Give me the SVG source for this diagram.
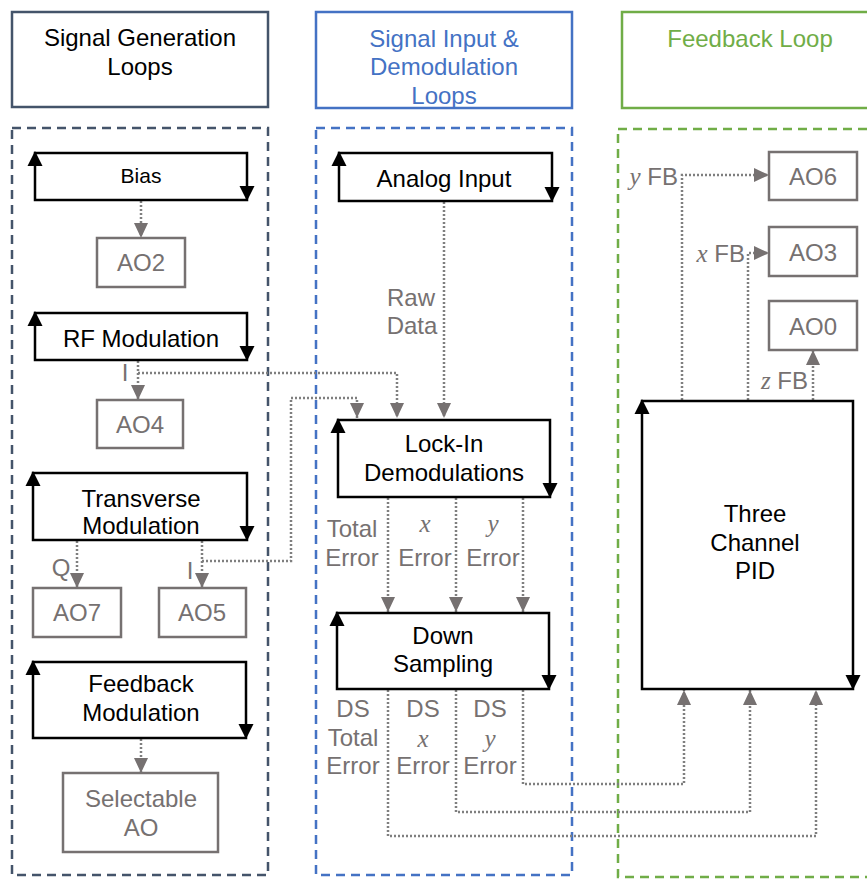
<svg xmlns="http://www.w3.org/2000/svg" xmlns:xlink="http://www.w3.org/1999/xlink" width="867" height="879" viewBox="0 0 867 879">
<style>
text{font-family:"Liberation Sans",Arial,sans-serif;font-size:24px;text-anchor:middle}
.blk{fill:#000}
.gry{fill:#767171}
.m{font-family:"Liberation Serif","DejaVu Serif",serif;font-style:italic;font-size:25px}
.hdr{fill:#fff;stroke-width:2.5}
.cont{fill:none;stroke-width:2.5;stroke-dasharray:9 6}
.loop{fill:#fff;stroke:#000;stroke-width:2.5}
.ao{fill:#fff;stroke:#767171;stroke-width:2.5}
.con{fill:none;stroke:#7F7F7F;stroke-width:2.5;stroke-dasharray:2 2;marker-end:url(#ah)}
</style>
<defs>
<marker id="ah" markerUnits="userSpaceOnUse" markerWidth="16" markerHeight="16" viewBox="0 0 16 16" refX="15" refY="8" orient="auto">
<path d="M0,1 L15,8 L0,15 Z" fill="#767171"/>
</marker>
<path id="up" d="M0,0 L-7.5,15 L7.5,15 Z" fill="#000"/>
<path id="dn" d="M0,0 L-7.5,-15 L7.5,-15 Z" fill="#000"/>
</defs>
<rect width="867" height="879" fill="#fff"/>

<g id="headers">
<rect class="hdr" x="12" y="12" width="256" height="95" stroke="#44546A"/>
<text class="blk" x="140" y="46">Signal Generation</text>
<text class="blk" x="140" y="75">Loops</text>
<rect class="hdr" x="316" y="12" width="256" height="96" stroke="#4472C4"/>
<text x="444" y="47" fill="#4472C4">Signal Input &amp;</text>
<text x="444" y="75" fill="#4472C4">Demodulation</text>
<text x="444" y="104" fill="#4472C4">Loops</text>
<rect class="hdr" x="622" y="12" width="260" height="96" stroke="#70AD47"/>
<text x="750" y="47" fill="#70AD47">Feedback Loop</text>
</g>

<g id="containers">
<rect class="cont" x="12" y="128" width="256" height="747" stroke="#44546A"/>
<rect class="cont" x="316" y="128" width="256" height="747" stroke="#4472C4"/>
<rect class="cont" x="618" y="129" width="264" height="748" stroke="#70AD47"/>
</g>

<g id="connectors">
<path class="con" d="M141,201 V238"/>
<path class="con" d="M138,361 V400"/>
<path class="con" d="M138,373 H397 V418"/>
<path class="con" d="M77,541 V588"/>
<path class="con" d="M202,541 V588"/>
<path class="con" d="M202,561 H291 V398 H357 V418"/>
<path class="con" d="M141,739 V773"/>
<path class="con" d="M444,202 V418"/>
<path class="con" d="M388,498 V612"/>
<path class="con" d="M456,498 V612"/>
<path class="con" d="M523,498 V612"/>
<path class="con" d="M523,690 V784 H684 V690"/>
<path class="con" d="M456,690 V812 H750 V690"/>
<path class="con" d="M388,690 V836 H816 V690"/>
<path class="con" d="M682,400 V175 H769"/>
<path class="con" d="M748,400 V253 H769"/>
<path class="con" d="M813,400 V350"/>
</g>

<g id="bias">
<rect class="loop" x="35" y="153" width="212" height="47"/>
<use xlink:href="#up" x="35" y="151"/>
<use xlink:href="#dn" x="247" y="201"/>
<text class="blk" x="141" y="183" style="font-size:21px">Bias</text>
</g>
<g id="ao2">
<rect class="ao" x="97" y="238" width="88" height="49"/>
<text class="gry" x="141" y="271">AO2</text>
</g>
<g id="rf-modulation">
<rect class="loop" x="35" y="313" width="212" height="47"/>
<use xlink:href="#up" x="35" y="311"/>
<use xlink:href="#dn" x="247" y="361"/>
<text class="blk" x="141" y="347">RF Modulation</text>
</g>
<g id="ao4">
<rect class="ao" x="97" y="400" width="86" height="48"/>
<text class="gry" x="140" y="433">AO4</text>
</g>
<g id="transverse-modulation">
<rect class="loop" x="33" y="473" width="214" height="67"/>
<use xlink:href="#up" x="33" y="471"/>
<use xlink:href="#dn" x="247" y="541"/>
<text class="blk" x="141" y="507">Transverse</text>
<text class="blk" x="141" y="534">Modulation</text>
</g>
<g id="ao7">
<rect class="ao" x="33" y="588" width="88" height="49"/>
<text class="gry" x="77" y="621">AO7</text>
</g>
<g id="ao5">
<rect class="ao" x="159" y="588" width="87" height="49"/>
<text class="gry" x="202" y="621">AO5</text>
</g>
<g id="feedback-modulation">
<rect class="loop" x="33" y="662" width="213" height="76"/>
<use xlink:href="#up" x="33" y="660"/>
<use xlink:href="#dn" x="246" y="739"/>
<text class="blk" x="141" y="692">Feedback</text>
<text class="blk" x="141" y="721">Modulation</text>
</g>
<g id="selectable-ao">
<rect class="ao" x="63" y="773" width="155" height="79"/>
<text class="gry" x="141" y="807">Selectable</text>
<text class="gry" x="141" y="836">AO</text>
</g>

<g id="analog-input">
<rect class="loop" x="339" y="153" width="213" height="48"/>
<use xlink:href="#up" x="339" y="151"/>
<use xlink:href="#dn" x="552" y="202"/>
<text class="blk" x="444" y="187">Analog Input</text>
</g>
<g id="lock-in">
<rect class="loop" x="338" y="420" width="212" height="77"/>
<use xlink:href="#up" x="338" y="418"/>
<use xlink:href="#dn" x="550" y="498"/>
<text class="blk" x="444" y="452">Lock-In</text>
<text class="blk" x="444" y="481">Demodulations</text>
</g>
<g id="down-sampling">
<rect class="loop" x="337" y="613" width="212" height="76"/>
<use xlink:href="#up" x="337" y="611"/>
<use xlink:href="#dn" x="549" y="690"/>
<text class="blk" x="443" y="644">Down</text>
<text class="blk" x="443" y="672">Sampling</text>
</g>

<g id="pid">
<rect class="loop" x="642" y="401" width="211" height="288"/>
<use xlink:href="#up" x="642" y="399"/>
<use xlink:href="#dn" x="853" y="690"/>
<text class="blk" x="755" y="522">Three</text>
<text class="blk" x="755" y="551">Channel</text>
<text class="blk" x="755" y="579">PID</text>
</g>
<g id="ao6">
<rect class="ao" x="769" y="152" width="88" height="48"/>
<text class="gry" x="813" y="185">AO6</text>
</g>
<g id="ao3">
<rect class="ao" x="769" y="227" width="88" height="49"/>
<text class="gry" x="813" y="261">AO3</text>
</g>
<g id="ao0">
<rect class="ao" x="769" y="301" width="88" height="49"/>
<text class="gry" x="813" y="335">AO0</text>
</g>

<g id="labels">
<text class="gry" x="125" y="381">I</text>
<text class="gry" x="61" y="576">Q</text>
<text class="gry" x="190" y="579">I</text>
<text class="gry" x="411" y="306">Raw</text>
<text class="gry" x="412" y="334">Data</text>
<text class="gry" x="352" y="537">Total</text>
<text class="gry" x="352" y="566">Error</text>
<text class="gry m" x="425" y="532">x</text>
<text class="gry" x="425" y="566">Error</text>
<text class="gry m" x="493" y="532">y</text>
<text class="gry" x="493" y="566">Error</text>
<text class="gry" x="353" y="717">DS</text>
<text class="gry" x="353" y="746">Total</text>
<text class="gry" x="353" y="774">Error</text>
<text class="gry" x="423" y="717">DS</text>
<text class="gry m" x="423" y="747">x</text>
<text class="gry" x="423" y="774">Error</text>
<text class="gry" x="490" y="717">DS</text>
<text class="gry m" x="490" y="747">y</text>
<text class="gry" x="490" y="774">Error</text>
<text class="gry" x="678" y="185" style="text-anchor:end"><tspan class="m">y</tspan> FB</text>
<text class="gry" x="745" y="262" style="text-anchor:end"><tspan class="m">x</tspan> FB</text>
<text class="gry" x="808" y="389" style="text-anchor:end"><tspan class="m">z</tspan> FB</text>
</g>
</svg>
